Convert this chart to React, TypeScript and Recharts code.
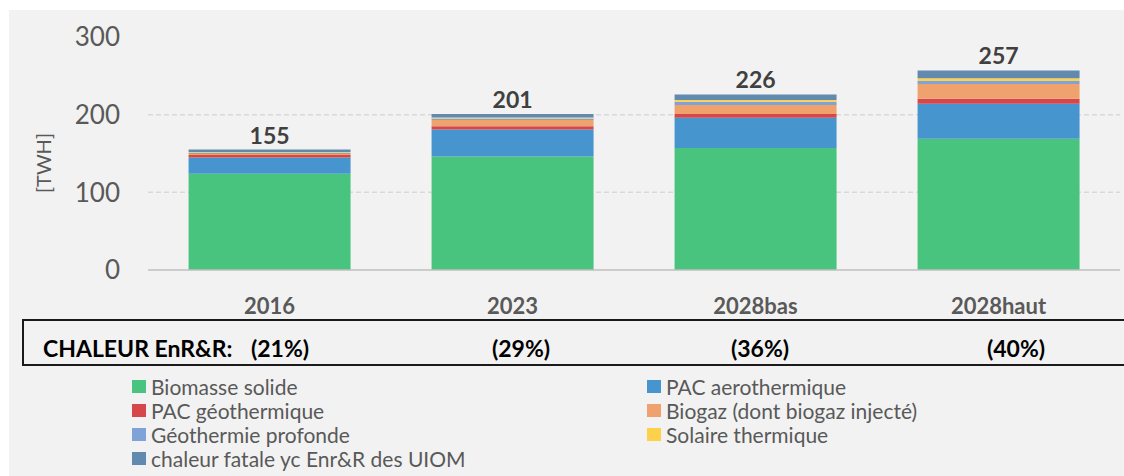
import React from 'react';
import { BarChart, Bar, XAxis, YAxis, ReferenceLine, LabelList } from 'recharts';

const categories = ['2016', '2023', '2028bas', '2028haut'];
const biomasse = [124, 146, 157, 169];
const pacAero = [21, 35, 39, 45];
const pacGeo = [3, 4, 5, 6.5];
const biogaz = [1.5, 8, 11.5, 19];
const geoProfonde = [1, 2, 4, 4];
const solaire = [1.5, 1.5, 2.5, 3.5];
const fatale = [3, 4.5, 7, 10];
const totals = [155, 201, 226, 257];
const shares = ['(21%)', '(29%)', '(36%)', '(40%)'];
const yTicks = [0, 100, 200, 300];
const gridValues = [100, 200];

const series = [
  { key: 'biomasse', name: 'Biomasse solide', color: '#48C47F', values: biomasse },
  { key: 'pacAero', name: 'PAC aerothermique', color: '#4795CF', values: pacAero },
  { key: 'pacGeo', name: 'PAC géothermique', color: '#D5474A', values: pacGeo },
  { key: 'biogaz', name: 'Biogaz (dont biogaz injecté)', color: '#F0A26E', values: biogaz },
  { key: 'geoProfonde', name: 'Géothermie profonde', color: '#7FA2D8', values: geoProfonde },
  { key: 'solaire', name: 'Solaire thermique', color: '#FDD14A', values: solaire },
  { key: 'fatale', name: 'chaleur fatale yc Enr&R des UIOM', color: '#6289AE', values: fatale },
];

const data = categories.map((cat, i) => {
  const row: Record<string, string | number> = { cat, total: totals[i] };
  series.forEach((s) => { row[s.key] = s.values[i]; });
  return row;
});

const FONT = 'Lato, "Open Sans", sans-serif';
const shareX = [280, 521, 760, 1016];
const chartMargin = { top: 37, right: 4, bottom: 0, left: 0 };

// dashed grid lines sit in a chart of their own underneath, so the bars cover them
function GridLayer() {
  return (
    <BarChart width={1124} height={320} data={data} margin={chartMargin}>
      <XAxis dataKey="cat" height={50} tick={false} tickLine={false} axisLine={false} />
      <YAxis width={148} domain={[0, 300]} ticks={yTicks} tick={false} tickLine={false} axisLine={false} />
      <Bar dataKey="total" fill="none" isAnimationActive={false} />
      {gridValues.map((v) => (
        <ReferenceLine key={v} y={v} stroke="#d9d9d9" strokeDasharray="5 3" strokeWidth={1.5} />
      ))}
    </BarChart>
  );
}

export default function App() {
  return (
    <div style={{ position: 'absolute', left: 0, top: 0, width: 1124, height: 476, background: '#fff', fontFamily: FONT, overflow: 'hidden' }}>
      <div style={{ position: 'absolute', left: 9, top: 10, width: 1115, height: 466, background: '#f2f2f2' }} />

      <div style={{ position: 'absolute', left: 0, top: 0 }}>
        <GridLayer />
      </div>

      <div style={{ position: 'absolute', left: 0, top: 0 }}>
        <BarChart width={1124} height={320} data={data} margin={chartMargin} barCategoryGap="16.7%">
          <XAxis
            dataKey="cat"
            height={50}
            tickLine={false}
            axisLine={{ stroke: '#bfbfbf', strokeWidth: 1.5 }}
            tickMargin={22}
            tick={{ fill: '#595959', fontSize: 22, fontWeight: 700, fontFamily: FONT }}
          />
          <YAxis
            width={148}
            domain={[0, 300]}
            ticks={yTicks}
            axisLine={false}
            tickLine={false}
            tickSize={0}
            tickMargin={28}
            tick={{ fill: '#595959', fontSize: 26, fontFamily: FONT }}
          />
          {series.map((s, idx) => (
            <Bar key={s.key} dataKey={s.key} stackId="a" fill={s.color} isAnimationActive={false}>
              {idx === series.length - 1 && (
                <LabelList dataKey="total" position="top" offset={6} fill="#404040" fontSize={23} fontWeight={700} fontFamily={FONT} />
              )}
            </Bar>
          ))}
        </BarChart>
      </div>

      <div style={{ position: 'absolute', left: 43, top: 163, width: 0, height: 0 }}>
        <div style={{ position: 'absolute', left: -40, top: -12, width: 80, textAlign: 'center', lineHeight: '24px', fontSize: 20, color: '#595959', transform: 'rotate(-90deg)' }}>
          [TWH]
        </div>
      </div>

      <div style={{ position: 'absolute', left: 22, top: 319, width: 1120, height: 47, border: '2px solid #1a1a1a', boxSizing: 'border-box' }} />
      <div style={{ position: 'absolute', left: 43, top: 333, fontSize: 23, fontWeight: 700, color: '#000', lineHeight: '30px' }}>
        CHALEUR EnR&amp;R:
      </div>
      {shares.map((s, i) => (
        <div key={s} style={{ position: 'absolute', left: shareX[i] - 50, width: 100, textAlign: 'center', top: 333, fontSize: 23, fontWeight: 700, color: '#000', lineHeight: '30px' }}>
          {s}
        </div>
      ))}

      {series.map((s, i) => {
        const col = i % 2;
        const row = Math.floor(i / 2);
        return (
          <div key={s.key} style={{ position: 'absolute', left: col === 0 ? 132 : 647, top: 374 + row * 24, height: 24, display: 'flex', alignItems: 'center', fontSize: 21, color: '#595959', whiteSpace: 'nowrap' }}>
            <span style={{ display: 'inline-block', width: 14, height: 13, background: s.color, marginRight: 5 }} />
            {s.name}
          </div>
        );
      })}
    </div>
  );
}
